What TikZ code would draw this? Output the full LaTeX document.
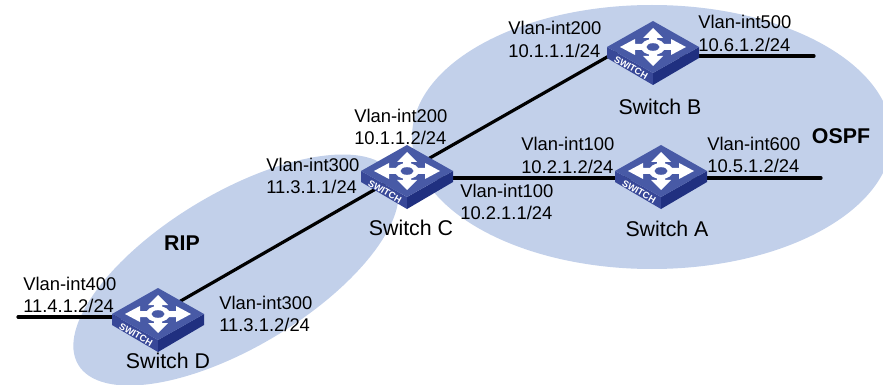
\documentclass[tikz,border=0pt]{standalone}
\usepackage{fontspec}
\setmainfont{Liberation Sans}
\definecolor{areablue}{RGB}{194,208,234}
\definecolor{swtop}{RGB}{72,90,166}
\definecolor{swleft}{RGB}{56,72,152}
\definecolor{swright}{RGB}{32,48,128}
\tikzset{
	lbl/.style={anchor=west,inner sep=0.75pt,align=left,font=\fontsize{13.8}{16.8}\selectfont},
	namelbl/.style={anchor=center,inner sep=0.75pt,font=\fontsize{16}{18}\selectfont},
	arealbl/.style={inner sep=0.75pt,font=\fontsize{16}{18}\selectfont\bfseries},
	link/.style={line width=2.4pt,line cap=round},
	switchicon/.pic={
		\begin{scope}[yscale=-1]
		\fill[swleft] (-46,0) -- (0,26) -- (0,38) -- (-46,11) -- cycle ;
		\fill[swright] (46,0) -- (0,26) -- (0,38) -- (46,11) -- cycle ;
		\fill[swtop] (0,-26) -- (46,0) -- (0,26) -- (-46,0) -- cycle ;
		\fill[white] (-4,-9) -- (-10,-9) -- (0,-19) -- (10,-9) -- (4,-9) -- (4,-3) -- (18,-3) -- (18,-8) -- (33,0) -- (18,8) -- (18,3) -- (4,3) -- (4,9) -- (10,9) -- (0,19) -- (-10,9) -- (-4,9) -- (-4,3) -- (-18,3) -- (-18,8) -- (-33,0) -- (-18,-8) -- (-18,-3) -- (-4,-3) -- cycle ;
		\fill[white] (0,0) ellipse [x radius=12,y radius=8];
		\fill[swtop] (0,0) ellipse [x radius=6.5,y radius=3.8];
		\node[white,inner sep=0pt,rotate=-30,font=\fontsize{7}{8}\selectfont\bfseries] (-tag) at (-22,20.5) {SWITCH};
		\end{scope}
	}
}
\begin{document}
\begin{tikzpicture}[x=0.75pt,y=0.75pt,yscale=-1,xscale=1]
	\useasboundingbox (0,0) rectangle (883,385);

	% Areas
	\fill[areablue] (652,137) ellipse [x radius=240,y radius=132];
	\fill[areablue] (236,270) ellipse [x radius=184,y radius=77,rotate=-31];

	% Switch positions
	\coordinate (swB) at (653,47);
	\coordinate (swC) at (407,171);
	\coordinate (swA) at (661,171);
	\coordinate (swD) at (158,314);

	% Line ends
	\coordinate (portBW) at (618,50.8);
	\coordinate (portBE) at (660,56);
	\coordinate (endB) at (814,56);
	\coordinate (portCE) at (420,178);
	\coordinate (portAW) at (650,178);
	\coordinate (portAE) at (670,178);
	\coordinate (endA) at (821,178);
	\coordinate (portDW) at (140,317);
	\coordinate (endD) at (18,317);

	% Links
	\draw[link] (swD) -- (swC);
	\draw[link] (swC) -- (portBW);
	\draw[link] (portCE) -- (portAW);
	\draw[link] (portBE) -- (endB);
	\draw[link] (portAE) -- (endA);
	\draw[link] (portDW) -- (endD);

	% Switches
	\pic (iconB) at (swB) {switchicon};
	\pic (iconC) at (swC) {switchicon};
	\pic (iconA) at (swA) {switchicon};
	\pic (iconD) at (swD) {switchicon};

	% Text Node
	\node[lbl] (lblBW) at (507,39.5) {Vlan-int200\\10.1.1.1/24};
	\node[lbl] (lblBE) at (697,33.5) {Vlan-int500\\10.6.1.2/24};
	\node[namelbl] (nameB) at (660,107) {Switch B};
	\node[arealbl] (ospf) at (841,136) {OSPF};
	\node[lbl] (lblAW) at (520,155.5) {Vlan-int100\\10.2.1.2/24};
	\node[lbl] (lblAE) at (706,155) {Vlan-int600\\10.5.1.2/24};
	\node[namelbl] (nameA) at (667,229) {Switch A};
	\node[lbl] (lblCN) at (353,127) {Vlan-int200\\10.1.1.2/24};
	\node[lbl] (lblCW) at (265,176) {Vlan-int300\\11.3.1.1/24};
	\node[lbl] (lblCE) at (459,202) {Vlan-int100\\10.2.1.1/24};
	\node[namelbl] (nameC) at (411,228) {Switch C};
	\node[arealbl] (rip) at (182,243) {RIP};
	\node[lbl] (lblDW) at (22,295) {Vlan-int400\\11.4.1.2/24};
	\node[lbl] (lblDE) at (218,314) {Vlan-int300\\11.3.1.2/24};
	\node[namelbl] (nameD) at (168,361) {Switch D};
\end{tikzpicture}
\end{document}
